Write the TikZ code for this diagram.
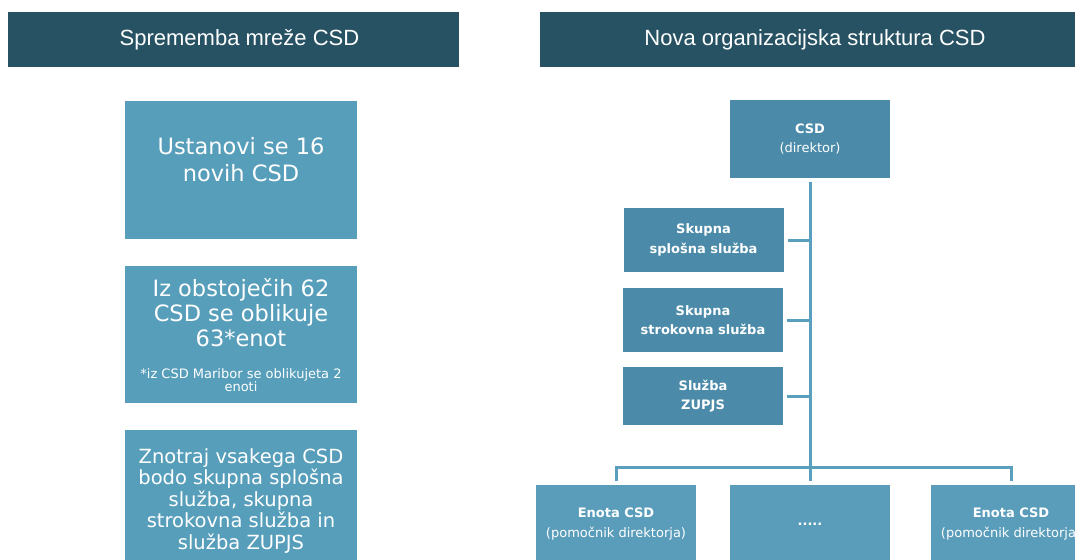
\documentclass[tikz,border=0pt]{standalone}
\usepackage{fontspec}
\setmainfont{DejaVu Sans}
\newfontfamily\headfont{Liberation Sans}
\definecolor{headcol}{HTML}{275263}
\definecolor{lightcol}{HTML}{579EBB}
\definecolor{darkcol}{HTML}{4B8BA9}
\definecolor{unitcol}{HTML}{5A9DBB}
\definecolor{linecol}{HTML}{5B9FBF}
\begin{document}
\begin{tikzpicture}[x=1pt, y=-1pt,
        header/.style={fill=headcol, text=white, minimum height=55pt, inner sep=0pt,
            font=\headfont\fontsize{22pt}{26pt}\selectfont, text height=15.8pt, text depth=4.6pt},
        leftbox/.style={fill=lightcol, minimum width=232pt, inner sep=0pt},
        lefttext/.style={text=white, align=center, inner sep=0pt, anchor=north},
        orgbox/.style={fill=darkcol, text=white, minimum width=160pt, inner sep=0pt,
            align=center, font=\fontsize{13pt}{19.5pt}\selectfont},
        unitbox/.style={orgbox, fill=unitcol, minimum height=78pt},
        link/.style={linecol, line width=3pt}]
    \useasboundingbox (0,0) rectangle (1075,559);
    % headers
    \node[header, minimum width=451pt] (hleft) at (233.5,39.5) {\hspace*{12pt}Sprememba mreže CSD};
    \node[header, minimum width=550pt] (hright) at (815,39.5) {Nova organizacijska struktura CSD};
    % left column
    \node[leftbox, minimum height=138pt] (ustanovi) at (241,170) {};
    \node[lefttext, font=\fontsize{22.5pt}{27.4pt}\selectfont] (ustanovitxt) at (241,137) {Ustanovi se 16\\novih CSD};
    \node[leftbox, minimum height=137pt] (obstojeci) at (241,334.5) {};
    \node[lefttext, font=\fontsize{22.5pt}{25pt}\selectfont] (obstojecitxt) at (241,278) {Iz obstoječih 62\\CSD se oblikuje\\63*enot};
    \node[lefttext, font=\fontsize{13pt}{13.5pt}\selectfont] (opomba) at (241,368) {*iz CSD Maribor se oblikujeta 2\\enoti};
    \node[leftbox, minimum height=141pt] (znotraj) at (241,500.5) {};
    \node[lefttext, font=\fontsize{19.5pt}{21.5pt}\selectfont] (znotrajtxt) at (241,448) {Znotraj vsakega CSD\\bodo skupna splošna\\služba, skupna\\strokovna služba in\\služba ZUPJS};
    % org chart
    \node[orgbox, minimum height=78pt] (direktor) at (810,139) {\textbf{CSD}\\(direktor)};
    \node[orgbox, minimum height=64pt] (splosna) at (703.5,240) {\textbf{Skupna}\\\textbf{splošna služba}};
    \node[orgbox, minimum height=64pt] (strokovna) at (703,320) {\textbf{Skupna}\\\textbf{strokovna služba}};
    \node[orgbox, minimum height=58pt] (zupjs) at (703,396) {\textbf{Služba}\\\textbf{ZUPJS}};
    \node[unitbox] (enota1) at (616,524) {\textbf{Enota CSD}\\(pomočnik direktorja)};
    \node[unitbox] (vmes) at (810,524) {\textbf{.....}};
    \node[unitbox] (enota2) at (1011,524) {\textbf{Enota CSD}\\(pomočnik direktorja)};
    \coordinate (razvod) at (810,467);
    \draw[link] ([yshift=-4pt]direktor.south) -- ([yshift=4pt]vmes.north);
    \draw[link] ([yshift=4pt]enota1.north) |- (razvod) -| ([yshift=4pt]enota2.north);
    \foreach \n in {splosna, strokovna, zupjs}
        \draw[link] ([xshift=4pt]\n.east) -- (\n.east -| direktor.south);
\end{tikzpicture}
\end{document}
